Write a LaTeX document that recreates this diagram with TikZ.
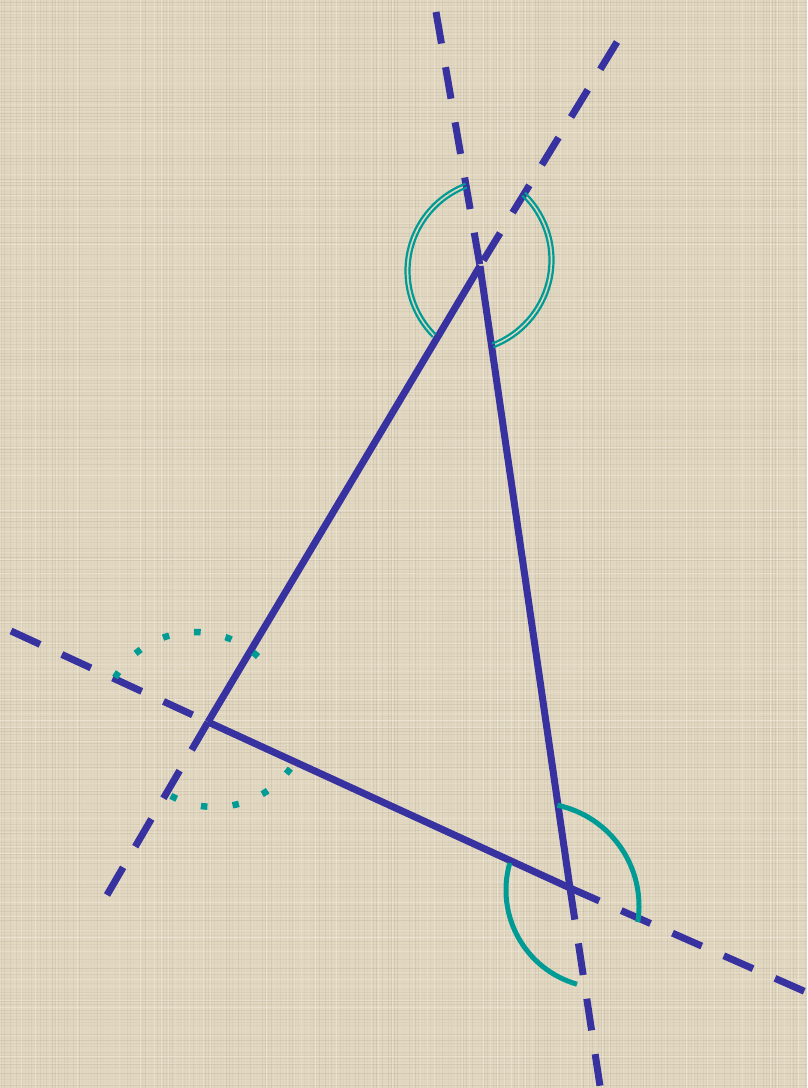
\documentclass[tikz,border=0pt]{standalone}
\usetikzlibrary{calc}
\definecolor{bgc}{RGB}{226,216,194}
\definecolor{lineblue}{RGB}{56,50,160}
\definecolor{arcteal}{RGB}{0,155,148}
\definecolor{weavedark}{RGB}{160,148,122}
\definecolor{weavelight}{RGB}{246,240,226}
\begin{document}
\begin{tikzpicture}[x=1pt,y=1pt,
  side/.style={draw=lineblue, line width=7pt, line cap=butt},
  ext/.style={side, dash pattern=on 32pt off 24pt},
  dblarc/.style={draw=arcteal, line width=2.2pt},
  solidarc/.style={draw=arcteal, line width=5pt},
  dotarc/.style={draw=arcteal, line width=6.5pt, dash pattern=on 6.5pt off 25.3pt},
  weave/.style={line width=1pt}]
\useasboundingbox (0,0) rectangle (807,1088);
\fill[bgc] (0,0) rectangle (807,1088);
% woven background texture
\begin{scope}
\clip (0,0) rectangle (807,1088);
\pgfmathsetseed{11}
\foreach \i in {1,4,...,806} {
  \pgfmathsetmacro\op{rnd*0.22}
  \draw[weave, weavedark, opacity=\op] (\i,0) -- (\i,1088);
}
\foreach \j in {2,5,...,1087} {
  \pgfmathsetmacro\op{rnd*0.22}
  \draw[weave, weavedark, opacity=\op] (0,\j) -- (807,\j);
}
\foreach \i in {0,7,...,806} {
  \pgfmathsetmacro\op{rnd*0.5}
  \draw[weave, weavelight, opacity=\op] (\i,0) -- (\i,1088);
}
\foreach \j in {3,10,...,1087} {
  \pgfmathsetmacro\op{rnd*0.5}
  \draw[weave, weavelight, opacity=\op] (0,\j) -- (807,\j);
}
\end{scope}
% vertices and far ends
\coordinate (A) at (480,822);
\coordinate (B) at (208,366);
\coordinate (C) at (570,200);
\coordinate (ACtop) at (436,1076);
\coordinate (ABtop) at (617,1046);
\coordinate (ABbot) at (107,193);
\coordinate (BCleft) at (11,457);
\coordinate (BCright) at (806,96);
\coordinate (ACbot) at (600,2);
% arc centres
\coordinate (cAl) at (499,817);
\coordinate (cAr) at (460,828);
\coordinate (cCu) at (536,182);
\coordinate (cCl) at (604,198);
\coordinate (cBu) at (195,363);
\coordinate (cBl) at (215,374);
% dashed extensions
\draw[ext] (ACtop) -- (A);
\draw[ext] (ABtop) -- (A);
\draw[ext] (ABbot) -- (B);
\draw[ext] (BCleft) -- (B);
\draw[ext] (C) -- (BCright);
\draw[ext] (C) -- (ACbot);
% triangle sides
\draw[side] (A) -- (B);
\draw[side] (B) -- (C);
\draw[side] (A) -- (C);
% angle arcs at A (double lines)
\draw[dblarc] (cAl) ++(111:93.5) arc[start angle=111, end angle=225, radius=93.5];
\draw[dblarc] (cAl) ++(111:89.5) arc[start angle=111, end angle=225, radius=89.5];
\draw[dblarc] (cAr) ++(46:93.5) arc[start angle=46, end angle=-69, radius=93.5];
\draw[dblarc] (cAr) ++(46:89.5) arc[start angle=46, end angle=-69, radius=89.5];
% angle arcs at C (solid)
\draw[solidarc] (cCu) ++(78:103) arc[start angle=78, end angle=-9, radius=103];
\draw[solidarc] (cCl) ++(164:98) arc[start angle=164, end angle=254, radius=98];
% angle arcs at B (dotted)
\draw[dotarc] (cBu) ++(149.3:93) arc[start angle=149.3, end angle=47, radius=93];
\draw[dotarc] (cBl) ++(241.7:93) arc[start angle=241.7, end angle=324.5, radius=93];
\end{tikzpicture}
\end{document}
